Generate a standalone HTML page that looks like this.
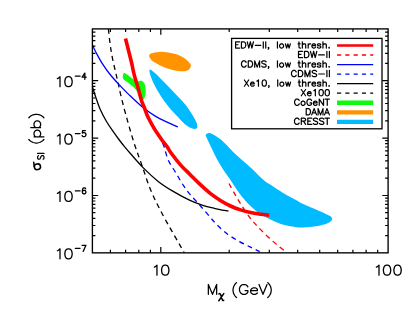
<!DOCTYPE html>
<html><head><meta charset="utf-8"><title>WIMP-nucleon cross-section limits</title><style>
html,body{margin:0;padding:0;background:#fff;}
svg{display:block;}
body{font-family:"Liberation Sans",sans-serif;}
</style></head><body>
<svg width="415" height="312" viewBox="0 0 415 312">
<rect width="415" height="312" fill="#fff"/>
<defs><clipPath id="c"><rect x="92.4" y="28.9" width="295.70000000000005" height="223.95"/></clipPath></defs>
<g clip-path="url(#c)" fill="none" stroke-linejoin="round">
<path d="M229.00 183.50C230.00 185.32 233.07 191.02 235.00 194.40C236.93 197.78 238.13 199.95 240.60 203.80C243.07 207.65 246.93 213.68 249.80 217.50C252.67 221.32 254.70 223.40 257.80 226.70C260.90 230.00 264.95 234.08 268.40 237.30C271.85 240.52 275.62 243.62 278.50 246.00C281.38 248.38 284.50 250.67 285.70 251.60" stroke="#ff0000" stroke-width="1.3" stroke-dasharray="5.0 4.1" stroke-dashoffset="0"/>
<path d="M124.20 73.00C123.53 73.12 123.15 74.22 123.00 75.20C122.85 76.18 122.42 77.65 123.30 78.90C124.18 80.15 126.63 81.33 128.30 82.70C129.97 84.07 131.83 85.65 133.30 87.10C134.77 88.55 135.63 89.53 137.10 91.40C138.57 93.27 140.95 97.03 142.10 98.30C143.25 99.57 143.42 99.83 144.00 99.00C144.58 98.17 145.40 95.50 145.60 93.30C145.80 91.10 145.58 87.68 145.20 85.80C144.82 83.92 144.03 82.83 143.30 82.00C142.57 81.17 141.83 80.90 140.80 80.80C139.77 80.70 138.57 81.82 137.10 81.40C135.63 80.98 133.68 79.45 132.00 78.30C130.32 77.15 128.30 75.38 127.00 74.50C125.70 73.62 124.87 72.88 124.20 73.00Z" fill="#0cfa0c"/>
<path d="M149.10 56.10C149.10 55.00 149.77 54.00 151.40 53.30C153.03 52.60 156.07 52.03 158.90 51.90C161.73 51.77 165.23 52.02 168.40 52.50C171.57 52.98 175.05 53.73 177.90 54.80C180.75 55.87 183.45 57.42 185.50 58.90C187.55 60.38 189.32 62.43 190.20 63.70C191.08 64.97 191.12 65.47 190.80 66.50C190.48 67.53 189.67 69.11 188.30 69.90C186.93 70.69 184.97 71.18 182.60 71.25C180.23 71.32 177.10 70.92 174.10 70.30C171.10 69.67 167.45 68.60 164.60 67.50C161.75 66.40 159.20 64.97 157.00 63.70C154.80 62.43 152.72 61.17 151.40 59.90C150.08 58.63 149.10 57.20 149.10 56.10Z" fill="#ff9400"/>
<path d="M149.80 69.50C149.00 69.82 149.67 72.68 150.40 75.20C151.13 77.72 152.47 81.13 154.20 84.60C155.93 88.07 158.43 92.37 160.80 96.00C163.17 99.63 165.87 103.25 168.40 106.40C170.93 109.55 173.07 111.80 176.00 114.90C178.93 118.00 183.38 122.77 186.00 125.00C188.62 127.23 190.12 127.67 191.70 128.30C193.28 128.93 194.57 129.03 195.50 128.80C196.43 128.57 197.15 128.00 197.30 126.90C197.45 125.80 197.33 124.40 196.40 122.20C195.47 120.00 193.52 116.60 191.70 113.70C189.88 110.80 187.80 107.67 185.50 104.80C183.20 101.93 180.43 99.22 177.90 96.50C175.37 93.78 172.83 91.12 170.30 88.50C167.77 85.88 165.22 83.33 162.70 80.80C160.18 78.27 157.35 75.18 155.20 73.30C153.05 71.42 150.60 69.18 149.80 69.50Z" fill="#00bbff"/>
<path d="M205.80 134.70C205.43 135.68 206.23 136.55 207.20 138.80C208.17 141.05 209.92 144.70 211.60 148.20C213.28 151.70 215.38 156.25 217.30 159.80C219.22 163.35 221.07 166.37 223.10 169.50C225.13 172.63 227.35 175.43 229.50 178.60C231.65 181.77 233.85 185.38 236.00 188.50C238.15 191.62 240.12 194.50 242.40 197.30C244.68 200.10 247.32 202.93 249.70 205.30C252.08 207.67 254.33 209.67 256.70 211.50C259.07 213.33 261.50 214.93 263.90 216.30C266.30 217.67 268.68 218.57 271.10 219.70C273.52 220.83 275.98 222.17 278.40 223.10C280.82 224.03 282.83 224.67 285.60 225.30C288.37 225.93 292.08 226.55 295.00 226.90C297.92 227.25 299.35 227.55 303.10 227.40C306.85 227.25 313.52 226.63 317.50 226.00C321.48 225.37 324.67 224.52 327.00 223.60C329.33 222.68 330.75 221.55 331.50 220.50C332.25 219.45 332.25 218.28 331.50 217.30C330.75 216.32 328.85 215.57 327.00 214.60C325.15 213.63 324.38 213.27 320.40 211.50C316.42 209.73 307.33 206.00 303.10 204.00C298.87 202.00 297.92 201.10 295.00 199.50C292.08 197.90 288.37 195.97 285.60 194.40C282.83 192.83 280.82 191.67 278.40 190.10C275.98 188.53 273.23 186.40 271.10 185.00C268.97 183.60 267.72 183.33 265.60 181.70C263.48 180.07 260.82 177.48 258.40 175.20C255.98 172.92 253.60 170.32 251.10 168.00C248.60 165.68 245.90 163.52 243.40 161.30C240.90 159.08 238.52 157.00 236.10 154.70C233.68 152.40 231.30 149.90 228.90 147.50C226.50 145.10 224.10 142.35 221.70 140.30C219.30 138.25 216.55 136.43 214.50 135.20C212.45 133.97 210.85 132.98 209.40 132.90C207.95 132.82 206.17 133.72 205.80 134.70Z" fill="#00bbff"/>
<path d="M162.50 143.00C162.82 143.75 163.45 144.67 164.40 147.50C165.35 150.33 166.32 155.82 168.20 160.00C170.08 164.18 173.20 168.42 175.70 172.60C178.20 176.78 180.82 181.47 183.20 185.10C185.58 188.73 187.18 191.00 190.00 194.40C192.82 197.80 196.73 201.70 200.10 205.50C203.47 209.30 207.33 213.93 210.20 217.20C213.07 220.47 214.35 222.23 217.30 225.10C220.25 227.97 224.20 231.65 227.90 234.40C231.60 237.15 235.65 239.43 239.50 241.60C243.35 243.77 247.63 245.73 251.00 247.40C254.37 249.07 258.25 250.90 259.70 251.60" stroke="#0000ff" stroke-width="1.3" stroke-dasharray="5.0 4.1"/>
<path d="M108.40 28.90C108.68 31.40 109.45 39.15 110.10 43.90C110.75 48.65 111.43 52.90 112.30 57.40C113.17 61.90 114.37 66.78 115.30 70.90C116.23 75.02 117.02 78.18 117.90 82.10C118.78 86.02 119.32 89.10 120.60 94.40C121.88 99.70 123.38 105.88 125.60 113.90C127.82 121.92 131.18 133.97 133.90 142.50C136.62 151.03 139.10 157.17 141.90 165.10C144.70 173.03 147.23 181.83 150.70 190.10C154.17 198.37 157.10 204.24 162.70 214.70C168.30 225.16 180.70 246.49 184.30 252.85" stroke="#000" stroke-width="1.3" stroke-dasharray="5.0 4.1"/>
<path d="M92.30 86.50C92.92 88.42 94.63 94.07 96.00 98.00C97.37 101.93 98.75 106.18 100.50 110.10C102.25 114.02 104.40 117.95 106.50 121.50C108.60 125.05 110.97 128.32 113.10 131.40C115.23 134.48 117.43 137.50 119.30 140.00C121.17 142.50 122.42 144.10 124.30 146.40C126.18 148.70 127.47 150.27 130.60 153.80C133.73 157.33 138.50 163.00 143.10 167.60C147.70 172.20 153.18 177.43 158.20 181.40C163.22 185.37 167.90 188.23 173.20 191.40C178.50 194.57 185.18 198.12 190.00 200.40C194.82 202.68 198.05 203.78 202.10 205.10C206.15 206.42 209.90 207.28 214.30 208.30C218.70 209.32 226.13 210.72 228.50 211.20" stroke="#000" stroke-width="1.3"/>
<path d="M92.30 44.80C93.03 46.28 95.00 50.52 96.70 53.70C98.40 56.88 100.33 60.52 102.50 63.90C104.67 67.28 106.93 70.55 109.70 74.00C112.47 77.45 115.82 81.08 119.10 84.60C122.38 88.12 125.40 91.27 129.40 95.10C133.40 98.93 138.72 104.05 143.10 107.60C147.48 111.15 151.52 113.90 155.70 116.40C159.88 118.90 164.52 120.85 168.20 122.60C171.88 124.35 176.20 126.18 177.80 126.90" stroke="#0000ff" stroke-width="1.3"/>
<path d="M125.50 38.50C126.48 42.42 130.13 56.75 131.40 62.00C132.67 67.25 132.53 67.50 133.10 70.00C133.67 72.50 133.97 74.00 134.80 77.00C135.63 80.00 137.00 84.13 138.10 88.00C139.20 91.87 140.33 96.87 141.40 100.20C142.47 103.53 143.37 105.10 144.50 108.00C145.63 110.90 146.55 114.12 148.20 117.60C149.85 121.08 152.52 125.77 154.40 128.90C156.28 132.03 158.25 134.55 159.50 136.40C160.75 138.25 160.65 138.32 161.90 140.00C163.15 141.68 165.53 144.42 167.00 146.50C168.47 148.58 168.42 149.40 170.70 152.50C172.98 155.60 177.48 161.45 180.70 165.10C183.92 168.75 186.77 171.18 190.00 174.40C193.23 177.62 196.73 181.25 200.10 184.40C203.47 187.55 206.82 190.63 210.20 193.30C213.58 195.97 217.02 198.28 220.40 200.40C223.78 202.52 227.13 204.42 230.50 206.00C233.87 207.58 237.23 208.80 240.60 209.90C243.97 211.00 247.32 211.88 250.70 212.60C254.08 213.32 257.82 213.77 260.90 214.20C263.98 214.63 267.82 215.03 269.20 215.20" stroke="#ff0000" stroke-width="3.6"/>
</g>
<rect x="231.6" y="38.4" width="150.4" height="90.4" fill="#fff" stroke="#000" stroke-width="1.3"/>
<line x1="337" y1="45.5" x2="373.2" y2="45.5" stroke="#ff0000" stroke-width="2.6"/>
<line x1="337" y1="55.0" x2="373.2" y2="55.0" stroke="#ff0000" stroke-width="1.3" stroke-dasharray="4.15 4.15"/>
<line x1="337" y1="64.6" x2="373.2" y2="64.6" stroke="#0000ff" stroke-width="1.3"/>
<line x1="337" y1="74.2" x2="373.2" y2="74.2" stroke="#0000ff" stroke-width="1.3" stroke-dasharray="4.15 4.15"/>
<line x1="337" y1="83.7" x2="373.2" y2="83.7" stroke="#000" stroke-width="1.2"/>
<line x1="337" y1="93.2" x2="373.2" y2="93.2" stroke="#000" stroke-width="1.2" stroke-dasharray="4.15 4.15"/>
<line x1="337" y1="102.8" x2="373.2" y2="102.8" stroke="#0cfa0c" stroke-width="4.4"/>
<line x1="337" y1="112.4" x2="373.2" y2="112.4" stroke="#ff9400" stroke-width="4.4"/>
<line x1="337" y1="121.9" x2="373.2" y2="121.9" stroke="#00bbff" stroke-width="4.4"/>
<path d="M235.60 41.77L235.60 48.03M235.60 41.77L239.60 41.77M235.60 44.75L238.06 44.75M235.60 48.03L239.60 48.03M241.44 41.77L241.44 48.03M241.44 41.77L243.60 41.77L244.52 42.07L245.13 42.66L245.44 43.26L245.75 44.16L245.75 45.64L245.44 46.54L245.13 47.13L244.52 47.73L243.60 48.03L241.44 48.03M247.29 41.77L248.82 48.03M250.36 41.77L248.82 48.03M250.36 41.77L251.90 48.03M253.44 41.77L251.90 48.03M255.28 45.35L260.82 45.35M263.28 41.77L263.28 48.03M265.74 41.77L265.74 48.03M268.81 47.73L268.51 48.03L268.20 47.73L268.51 47.43L268.81 47.73L268.81 48.33L268.51 48.92L268.20 49.22M277.43 41.77L277.43 48.03M281.12 43.86L280.50 44.16L279.89 44.75L279.58 45.64L279.58 46.24L279.89 47.13L280.50 47.73L281.12 48.03L282.04 48.03L282.65 47.73L283.27 47.13L283.58 46.24L283.58 45.64L283.27 44.75L282.65 44.16L282.04 43.86L281.12 43.86M285.42 43.86L286.65 48.03M287.88 43.86L286.65 48.03M287.88 43.86L289.11 48.03M290.34 43.86L289.11 48.03M298.95 41.77L298.95 46.84L299.26 47.73L299.88 48.03L300.49 48.03M298.03 43.86L300.18 43.86M302.34 41.77L302.34 48.03M302.34 45.05L303.26 44.16L303.87 43.86L304.80 43.86L305.41 44.16L305.72 45.05L305.72 48.03M308.18 43.86L308.18 48.03M308.18 45.64L308.49 44.75L309.10 44.16L309.72 43.86L310.64 43.86M311.87 45.64L315.56 45.64L315.56 45.05L315.25 44.45L314.95 44.16L314.33 43.86L313.41 43.86L312.79 44.16L312.18 44.75L311.87 45.64L311.87 46.24L312.18 47.13L312.79 47.73L313.41 48.03L314.33 48.03L314.95 47.73L315.56 47.13M320.79 44.75L320.48 44.16L319.56 43.86L318.64 43.86L317.71 44.16L317.41 44.75L317.71 45.35L318.33 45.64L319.87 45.94L320.48 46.24L320.79 46.84L320.79 47.13L320.48 47.73L319.56 48.03L318.64 48.03L317.71 47.73L317.41 47.13M322.94 41.77L322.94 48.03M322.94 45.05L323.86 44.16L324.48 43.86L325.40 43.86L326.02 44.16L326.32 45.05L326.32 48.03M329.09 47.43L328.78 47.73L329.09 48.03L329.40 47.73L329.09 47.43M298.50 51.32L298.50 57.58M298.50 51.32L302.60 51.32M298.50 54.30L301.02 54.30M298.50 57.58L302.60 57.58M304.49 51.32L304.49 57.58M304.49 51.32L306.70 51.32L307.64 51.62L308.27 52.21L308.59 52.81L308.91 53.70L308.91 55.19L308.59 56.09L308.27 56.68L307.64 57.28L306.70 57.58L304.49 57.58M310.48 51.32L312.06 57.58M313.63 51.32L312.06 57.58M313.63 51.32L315.21 57.58M316.79 51.32L315.21 57.58M318.68 54.90L324.36 54.90M326.88 51.32L326.88 57.58M329.40 51.32L329.40 57.58M246.11 62.36L245.80 61.76L245.19 61.17L244.57 60.87L243.34 60.87L242.73 61.17L242.11 61.76L241.81 62.36L241.50 63.25L241.50 64.74L241.81 65.64L242.11 66.23L242.73 66.83L243.34 67.13L244.57 67.13L245.19 66.83L245.80 66.23L246.11 65.64M248.26 60.87L248.26 67.13M248.26 60.87L250.41 60.87L251.33 61.17L251.95 61.76L252.26 62.36L252.56 63.25L252.56 64.74L252.26 65.64L251.95 66.23L251.33 66.83L250.41 67.13L248.26 67.13M254.72 60.87L254.72 67.13M254.72 60.87L257.17 67.13M259.63 60.87L257.17 67.13M259.63 60.87L259.63 67.13M266.09 61.76L265.47 61.17L264.55 60.87L263.32 60.87L262.40 61.17L261.78 61.76L261.78 62.36L262.09 62.96L262.40 63.25L263.01 63.55L264.86 64.15L265.47 64.45L265.78 64.74L266.09 65.34L266.09 66.23L265.47 66.83L264.55 67.13L263.32 67.13L262.40 66.83L261.78 66.23M268.85 66.83L268.55 67.13L268.24 66.83L268.55 66.53L268.85 66.83L268.85 67.43L268.55 68.02L268.24 68.32M277.46 60.87L277.46 67.13M281.15 62.96L280.53 63.25L279.92 63.85L279.61 64.74L279.61 65.34L279.92 66.23L280.53 66.83L281.15 67.13L282.07 67.13L282.68 66.83L283.30 66.23L283.61 65.34L283.61 64.74L283.30 63.85L282.68 63.25L282.07 62.96L281.15 62.96M285.45 62.96L286.68 67.13M287.91 62.96L286.68 67.13M287.91 62.96L289.14 67.13M290.37 62.96L289.14 67.13M298.97 60.87L298.97 65.94L299.28 66.83L299.90 67.13L300.51 67.13M298.05 62.96L300.20 62.96M302.35 60.87L302.35 67.13M302.35 64.15L303.28 63.25L303.89 62.96L304.81 62.96L305.43 63.25L305.73 64.15L305.73 67.13M308.19 62.96L308.19 67.13M308.19 64.74L308.50 63.85L309.12 63.25L309.73 62.96L310.65 62.96M311.88 64.74L315.57 64.74L315.57 64.15L315.26 63.55L314.95 63.25L314.34 62.96L313.42 62.96L312.80 63.25L312.19 63.85L311.88 64.74L311.88 65.34L312.19 66.23L312.80 66.83L313.42 67.13L314.34 67.13L314.95 66.83L315.57 66.23M320.79 63.85L320.49 63.25L319.57 62.96L318.64 62.96L317.72 63.25L317.41 63.85L317.72 64.45L318.34 64.74L319.87 65.04L320.49 65.34L320.79 65.94L320.79 66.23L320.49 66.83L319.57 67.13L318.64 67.13L317.72 66.83L317.41 66.23M322.95 60.87L322.95 67.13M322.95 64.15L323.87 63.25L324.48 62.96L325.40 62.96L326.02 63.25L326.33 64.15L326.33 67.13M329.09 66.53L328.79 66.83L329.09 67.13L329.40 66.83L329.09 66.53M296.20 71.91L295.89 71.32L295.26 70.72L294.63 70.42L293.38 70.42L292.75 70.72L292.13 71.32L291.81 71.91L291.50 72.81L291.50 74.30L291.81 75.19L292.13 75.79L292.75 76.38L293.38 76.68L294.63 76.68L295.26 76.38L295.89 75.79L296.20 75.19M298.39 70.42L298.39 76.68M298.39 70.42L300.58 70.42L301.52 70.72L302.15 71.32L302.46 71.91L302.78 72.81L302.78 74.30L302.46 75.19L302.15 75.79L301.52 76.38L300.58 76.68L298.39 76.68M304.97 70.42L304.97 76.68M304.97 70.42L307.47 76.68M309.98 70.42L307.47 76.68M309.98 70.42L309.98 76.68M316.56 71.32L315.93 70.72L314.99 70.42L313.74 70.42L312.80 70.72L312.17 71.32L312.17 71.91L312.49 72.51L312.80 72.81L313.43 73.10L315.30 73.70L315.93 74.00L316.24 74.30L316.56 74.89L316.56 75.79L315.93 76.38L314.99 76.68L313.74 76.68L312.80 76.38L312.17 75.79M318.75 74.00L324.39 74.00M326.89 70.42L326.89 76.68M329.40 70.42L329.40 76.68M244.40 79.97L248.68 86.23M248.68 79.97L244.40 86.23M250.52 83.85L254.18 83.85L254.18 83.25L253.88 82.65L253.57 82.36L252.96 82.06L252.04 82.06L251.43 82.36L250.82 82.95L250.52 83.85L250.52 84.44L250.82 85.34L251.43 85.93L252.04 86.23L252.96 86.23L253.57 85.93L254.18 85.34M256.94 81.16L257.55 80.87L258.46 79.97L258.46 86.23M263.97 79.97L263.05 80.27L262.44 81.16L262.13 82.65L262.13 83.55L262.44 85.04L263.05 85.93L263.97 86.23L264.58 86.23L265.50 85.93L266.11 85.04L266.41 83.55L266.41 82.65L266.11 81.16L265.50 80.27L264.58 79.97L263.97 79.97M269.17 85.93L268.86 86.23L268.55 85.93L268.86 85.63L269.17 85.93L269.17 86.53L268.86 87.12L268.55 87.42M277.73 79.97L277.73 86.23M281.40 82.06L280.78 82.36L280.17 82.95L279.87 83.85L279.87 84.44L280.17 85.34L280.78 85.93L281.40 86.23L282.31 86.23L282.93 85.93L283.54 85.34L283.84 84.44L283.84 83.85L283.54 82.95L282.93 82.36L282.31 82.06L281.40 82.06M285.68 82.06L286.90 86.23M288.12 82.06L286.90 86.23M288.12 82.06L289.35 86.23M290.57 82.06L289.35 86.23M299.13 79.97L299.13 85.04L299.44 85.93L300.05 86.23L300.66 86.23M298.21 82.06L300.35 82.06M302.49 79.97L302.49 86.23M302.49 83.25L303.41 82.36L304.02 82.06L304.94 82.06L305.55 82.36L305.86 83.25L305.86 86.23M308.30 82.06L308.30 86.23M308.30 83.85L308.61 82.95L309.22 82.36L309.83 82.06L310.75 82.06M311.97 83.85L315.64 83.85L315.64 83.25L315.34 82.65L315.03 82.36L314.42 82.06L313.50 82.06L312.89 82.36L312.28 82.95L311.97 83.85L311.97 84.44L312.28 85.34L312.89 85.93L313.50 86.23L314.42 86.23L315.03 85.93L315.64 85.34M320.84 82.95L320.53 82.36L319.62 82.06L318.70 82.06L317.78 82.36L317.48 82.95L317.78 83.55L318.39 83.85L319.92 84.14L320.53 84.44L320.84 85.04L320.84 85.34L320.53 85.93L319.62 86.23L318.70 86.23L317.78 85.93L317.48 85.34M322.98 79.97L322.98 86.23M322.98 83.25L323.90 82.36L324.51 82.06L325.43 82.06L326.04 82.36L326.34 83.25L326.34 86.23M329.09 85.63L328.79 85.93L329.09 86.23L329.40 85.93L329.09 85.63M301.30 89.52L305.58 95.78M305.58 89.52L301.30 95.78M307.41 93.40L311.07 93.40L311.07 92.80L310.77 92.20L310.46 91.91L309.85 91.61L308.94 91.61L308.32 91.91L307.71 92.50L307.41 93.40L307.41 93.99L307.71 94.89L308.32 95.48L308.94 95.78L309.85 95.78L310.46 95.48L311.07 94.89M313.82 90.71L314.43 90.42L315.35 89.52L315.35 95.78M320.85 89.52L319.93 89.82L319.32 90.71L319.02 92.20L319.02 93.10L319.32 94.59L319.93 95.48L320.85 95.78L321.46 95.78L322.38 95.48L322.99 94.59L323.29 93.10L323.29 92.20L322.99 90.71L322.38 89.82L321.46 89.52L320.85 89.52M326.96 89.52L326.04 89.82L325.43 90.71L325.12 92.20L325.12 93.10L325.43 94.59L326.04 95.48L326.96 95.78L327.57 95.78L328.48 95.48L329.09 94.59L329.40 93.10L329.40 92.20L329.09 90.71L328.48 89.82L327.57 89.52L326.96 89.52M299.22 100.56L298.91 99.97L298.30 99.37L297.68 99.07L296.45 99.07L295.83 99.37L295.22 99.97L294.91 100.56L294.60 101.46L294.60 102.95L294.91 103.84L295.22 104.44L295.83 105.03L296.45 105.33L297.68 105.33L298.30 105.03L298.91 104.44L299.22 103.84M302.61 101.16L301.99 101.46L301.38 102.05L301.07 102.95L301.07 103.54L301.38 104.44L301.99 105.03L302.61 105.33L303.53 105.33L304.15 105.03L304.76 104.44L305.07 103.54L305.07 102.95L304.76 102.05L304.15 101.46L303.53 101.16L302.61 101.16M311.54 100.56L311.23 99.97L310.61 99.37L310.00 99.07L308.77 99.07L308.15 99.37L307.53 99.97L307.23 100.56L306.92 101.46L306.92 102.95L307.23 103.84L307.53 104.44L308.15 105.03L308.77 105.33L310.00 105.33L310.61 105.03L311.23 104.44L311.54 103.84L311.54 102.95M310.00 102.95L311.54 102.95M313.39 102.95L317.08 102.95L317.08 102.35L316.77 101.75L316.47 101.46L315.85 101.16L314.93 101.16L314.31 101.46L313.69 102.05L313.39 102.95L313.39 103.54L313.69 104.44L314.31 105.03L314.93 105.33L315.85 105.33L316.47 105.03L317.08 104.44M319.24 99.07L319.24 105.33M319.24 99.07L323.55 105.33M323.55 99.07L323.55 105.33M327.24 99.07L327.24 105.33M325.09 99.07L329.40 99.07M306.20 108.62L306.20 114.88M306.20 108.62L308.34 108.62L309.25 108.92L309.86 109.52L310.17 110.11L310.47 111.01L310.47 112.50L310.17 113.39L309.86 113.99L309.25 114.58L308.34 114.88L306.20 114.88M314.14 108.62L311.69 114.88M314.14 108.62L316.58 114.88M312.61 112.79L315.66 112.79M318.11 108.62L318.11 114.88M318.11 108.62L320.55 114.88M322.99 108.62L320.55 114.88M322.99 108.62L322.99 114.88M326.96 108.62L324.52 114.88M326.96 108.62L329.40 114.88M325.43 112.79L328.48 112.79M299.13 119.66L298.82 119.07L298.21 118.47L297.59 118.17L296.35 118.17L295.74 118.47L295.12 119.07L294.81 119.66L294.50 120.56L294.50 122.05L294.81 122.94L295.12 123.54L295.74 124.13L296.35 124.43L297.59 124.43L298.21 124.13L298.82 123.54L299.13 122.94M301.29 118.17L301.29 124.43M301.29 118.17L304.07 118.17L305.00 118.47L305.31 118.77L305.62 119.36L305.62 119.96L305.31 120.56L305.00 120.85L304.07 121.15L301.29 121.15M303.46 121.15L305.62 124.43M307.78 118.17L307.78 124.43M307.78 118.17L311.80 118.17M307.78 121.15L310.25 121.15M307.78 124.43L311.80 124.43M317.66 119.07L317.05 118.47L316.12 118.17L314.88 118.17L313.96 118.47L313.34 119.07L313.34 119.66L313.65 120.26L313.96 120.56L314.58 120.85L316.43 121.45L317.05 121.75L317.35 122.05L317.66 122.64L317.66 123.54L317.05 124.13L316.12 124.43L314.88 124.43L313.96 124.13L313.34 123.54M323.84 119.07L323.22 118.47L322.30 118.17L321.06 118.17L320.13 118.47L319.52 119.07L319.52 119.66L319.83 120.26L320.13 120.56L320.75 120.85L322.61 121.45L323.22 121.75L323.53 122.05L323.84 122.64L323.84 123.54L323.22 124.13L322.30 124.43L321.06 124.43L320.13 124.13L319.52 123.54M327.24 118.17L327.24 124.43M325.08 118.17L329.40 118.17" fill="none" stroke="#000" stroke-width="1.22" stroke-linecap="round" stroke-linejoin="round"/>

<path d="M110.4 252.8L110.4 249.8 M110.4 28.9L110.4 31.9 M125.6 252.8L125.6 249.8 M125.6 28.9L125.6 31.9 M138.8 252.8L138.8 249.8 M138.8 28.9L138.8 31.9 M150.4 252.8L150.4 249.8 M150.4 28.9L150.4 31.9 M160.8 252.8L160.8 247.0 M160.8 28.9L160.8 34.7 M229.2 252.8L229.2 249.8 M229.2 28.9L229.2 31.9 M269.3 252.8L269.3 249.8 M269.3 28.9L269.3 31.9 M297.7 252.8L297.7 249.8 M297.7 28.9L297.7 31.9 M319.7 252.8L319.7 249.8 M319.7 28.9L319.7 31.9 M337.7 252.8L337.7 249.8 M337.7 28.9L337.7 31.9 M352.9 252.8L352.9 249.8 M352.9 28.9L352.9 31.9 M366.1 252.8L366.1 249.8 M366.1 28.9L366.1 31.9 M377.7 252.8L377.7 249.8 M377.7 28.9L377.7 31.9 M92.4 235.6L95.4 235.6 M388.1 235.6L385.1 235.6 M92.4 225.5L95.4 225.5 M388.1 225.5L385.1 225.5 M92.4 218.3L95.4 218.3 M388.1 218.3L385.1 218.3 M92.4 212.7L95.4 212.7 M388.1 212.7L385.1 212.7 M92.4 208.2L95.4 208.2 M388.1 208.2L385.1 208.2 M92.4 204.4L95.4 204.4 M388.1 204.4L385.1 204.4 M92.4 201.0L95.4 201.0 M388.1 201.0L385.1 201.0 M92.4 198.1L95.4 198.1 M388.1 198.1L385.1 198.1 M92.4 195.5L98.2 195.5 M388.1 195.5L382.3 195.5 M92.4 178.2L95.4 178.2 M388.1 178.2L385.1 178.2 M92.4 168.1L95.4 168.1 M388.1 168.1L385.1 168.1 M92.4 160.9L95.4 160.9 M388.1 160.9L385.1 160.9 M92.4 155.4L95.4 155.4 M388.1 155.4L385.1 155.4 M92.4 150.8L95.4 150.8 M388.1 150.8L385.1 150.8 M92.4 147.0L95.4 147.0 M388.1 147.0L385.1 147.0 M92.4 143.7L95.4 143.7 M388.1 143.7L385.1 143.7 M92.4 140.7L95.4 140.7 M388.1 140.7L385.1 140.7 M92.4 138.1L98.2 138.1 M388.1 138.1L382.3 138.1 M92.4 120.8L95.4 120.8 M388.1 120.8L385.1 120.8 M92.4 110.7L95.4 110.7 M388.1 110.7L385.1 110.7 M92.4 103.5L95.4 103.5 M388.1 103.5L385.1 103.5 M92.4 98.0L95.4 98.0 M388.1 98.0L385.1 98.0 M92.4 93.4L95.4 93.4 M388.1 93.4L385.1 93.4 M92.4 89.6L95.4 89.6 M388.1 89.6L385.1 89.6 M92.4 86.3L95.4 86.3 M388.1 86.3L385.1 86.3 M92.4 83.3L95.4 83.3 M388.1 83.3L385.1 83.3 M92.4 80.7L98.2 80.7 M388.1 80.7L382.3 80.7 M92.4 63.4L95.4 63.4 M388.1 63.4L385.1 63.4 M92.4 53.3L95.4 53.3 M388.1 53.3L385.1 53.3 M92.4 46.2L95.4 46.2 M388.1 46.2L385.1 46.2 M92.4 40.6L95.4 40.6 M388.1 40.6L385.1 40.6 M92.4 36.1L95.4 36.1 M388.1 36.1L385.1 36.1 M92.4 32.2L95.4 32.2 M388.1 32.2L385.1 32.2" stroke="#000" stroke-width="1.2" fill="none"/>
<rect x="92.4" y="28.9" width="295.70000000000005" height="223.95" fill="none" stroke="#000" stroke-width="1.35"/>
<path d="M57.39 78.62L58.44 78.14L60.00 76.71L60.00 86.71M67.98 76.71L66.42 77.19L65.37 78.62L64.85 81.00L64.85 82.42L65.37 84.80L66.42 86.23L67.98 86.71L69.02 86.71L70.58 86.23L71.63 84.80L72.15 82.42L72.15 81.00L71.63 78.62L70.58 77.19L69.02 76.71L67.98 76.71M75.36 76.21L80.04 76.21M84.83 73.16L82.08 77.22L86.20 77.22M84.83 73.16L84.83 79.25M57.39 136.00L58.44 135.52L60.00 134.09L60.00 144.09M67.98 134.09L66.42 134.57L65.37 136.00L64.85 138.38L64.85 139.80L65.37 142.18L66.42 143.61L67.98 144.09L69.02 144.09L70.58 143.61L71.63 142.18L72.15 139.80L72.15 138.38L71.63 136.00L70.58 134.57L69.02 134.09L67.98 134.09M75.36 133.59L80.04 133.59M85.38 130.55L82.62 130.55L82.35 133.16L82.62 132.87L83.45 132.58L84.28 132.58L85.10 132.87L85.65 133.44L85.92 134.31L85.92 134.90L85.65 135.77L85.10 136.34L84.28 136.63L83.45 136.63L82.62 136.34L82.35 136.06L82.08 135.47M57.39 193.38L58.44 192.90L60.00 191.47L60.00 201.47M67.98 191.47L66.42 191.95L65.37 193.38L64.85 195.76L64.85 197.18L65.37 199.56L66.42 200.99L67.98 201.47L69.02 201.47L70.58 200.99L71.63 199.56L72.15 197.18L72.15 195.76L71.63 193.38L70.58 191.95L69.02 191.47L67.98 191.47M75.36 190.97L80.04 190.97M85.65 188.79L85.38 188.22L84.55 187.93L84.00 187.93L83.17 188.22L82.62 189.09L82.35 190.53L82.35 191.98L82.62 193.15L83.17 193.72L84.00 194.01L84.28 194.01L85.10 193.72L85.65 193.15L85.92 192.28L85.92 191.98L85.65 191.12L85.10 190.53L84.28 190.25L84.00 190.25L83.17 190.53L82.62 191.12L82.35 191.98M57.39 250.76L58.44 250.28L60.00 248.85L60.00 258.85M67.98 248.85L66.42 249.33L65.37 250.76L64.85 253.14L64.85 254.56L65.37 256.94L66.42 258.37L67.98 258.85L69.02 258.85L70.58 258.37L71.63 256.94L72.15 254.56L72.15 253.14L71.63 250.76L70.58 249.33L69.02 248.85L67.98 248.85M75.36 248.35L80.04 248.35M85.92 245.31L83.17 251.40M82.08 245.31L85.92 245.31M154.35 267.11L155.39 266.63L156.95 265.20L156.95 275.20M164.73 265.20L163.17 265.68L162.12 267.11L161.60 269.49L161.60 270.91L162.12 273.29L163.17 274.72L164.73 275.20L165.77 275.20L167.33 274.72L168.38 273.29L168.90 270.91L168.90 269.49L168.38 267.11L167.33 265.68L165.77 265.20L164.73 265.20M376.39 267.11L377.44 266.63L379.00 265.20L379.00 275.20M386.53 265.20L384.97 265.68L383.92 267.11L383.40 269.49L383.40 270.91L383.92 273.29L384.97 274.72L386.53 275.20L387.57 275.20L389.13 274.72L390.18 273.29L390.70 270.91L390.70 269.49L390.18 267.11L389.13 265.68L387.57 265.20L386.53 265.20M397.03 265.20L395.47 265.68L394.42 267.11L393.90 269.49L393.90 270.91L394.42 273.29L395.47 274.72L397.03 275.20L398.07 275.20L399.63 274.72L400.68 273.29L401.20 270.91L401.20 269.49L400.68 267.11L399.63 265.68L398.07 265.20L397.03 265.20" fill="none" stroke="#000" stroke-width="1.3" stroke-linecap="round" stroke-linejoin="round"/>
<path d="M208.34 284.50L208.34 294.30M208.34 284.50L212.50 294.30M216.66 284.50L212.50 294.30M216.66 284.50L216.66 294.30M236.55 282.63L235.55 283.56L234.55 284.96L233.55 286.83L233.05 289.17L233.05 291.03L233.55 293.37L234.55 295.24L235.55 296.64L236.55 297.57M247.91 286.83L247.35 285.90L246.23 284.96L245.11 284.50L242.87 284.50L241.75 284.96L240.63 285.90L240.07 286.83L239.51 288.23L239.51 290.57L240.07 291.97L240.63 292.90L241.75 293.84L242.87 294.30L245.11 294.30L246.23 293.84L247.35 292.90L247.91 291.97L247.91 290.57M245.11 290.57L247.91 290.57M250.58 290.57L257.42 290.57L257.42 289.63L256.85 288.70L256.28 288.23L255.14 287.77L253.43 287.77L252.29 288.23L251.15 289.17L250.58 290.57L250.58 291.50L251.15 292.90L252.29 293.84L253.43 294.30L255.14 294.30L256.28 293.84L257.42 292.90M259.00 284.50L263.00 294.30M267.00 284.50L263.00 294.30M267.70 282.63L268.70 283.56L269.70 284.96L270.70 286.83L271.20 289.17L271.20 291.03L270.70 293.37L269.70 295.24L268.70 296.64L267.70 297.57M28.82 117.80L29.77 116.80L31.18 115.80L33.06 114.80L35.42 114.30L37.30 114.30L39.66 114.80L41.54 115.80L42.95 116.80L43.90 117.80M30.71 127.51L40.60 127.51M35.42 127.51L34.48 126.39L34.01 125.27L34.01 123.59L34.48 122.47L35.42 121.35L36.83 120.79L37.77 120.79L39.19 121.35L40.13 122.47L40.60 123.59L40.60 125.27L40.13 126.39L39.19 127.51M34.01 136.86L43.90 136.86M35.42 136.86L34.48 135.74L34.01 134.62L34.01 132.94L34.48 131.82L35.42 130.70L36.83 130.14L37.77 130.14L39.19 130.70L40.13 131.82L40.60 132.94L40.60 134.62L40.13 135.74L39.19 136.86M28.82 139.50L29.77 140.50L31.18 141.50L33.06 142.50L35.42 143.00L37.30 143.00L39.66 142.50L41.54 141.50L42.95 140.50L43.90 139.50" fill="none" stroke="#000" stroke-width="1.25" stroke-linecap="round" stroke-linejoin="round"/>
<path d="M38.51 155.58L37.90 156.10L37.59 156.88L37.59 157.92L37.90 158.70L38.51 159.22L39.12 159.22L39.73 158.96L40.03 158.70L40.34 158.18L40.95 156.62L41.26 156.10L41.56 155.84L42.17 155.58L43.09 155.58L43.70 156.10L44.00 156.88L44.00 157.92L43.70 158.70L43.09 159.22M37.59 153.40L44.00 153.40" fill="none" stroke="#000" stroke-width="1.2" stroke-linecap="round" stroke-linejoin="round"/>
<path d="M218.9 294.0C219.5 293.4 220.2 293.5 220.5 294.3L222.4 299.9C222.7 300.7 223.2 300.8 223.7 300.3M223.8 293.6L218.8 300.8" fill="none" stroke="#000" stroke-width="1.5" stroke-linecap="round" stroke-linejoin="round"/>
<g fill="none" stroke="#000" stroke-width="1.55" stroke-linecap="round" stroke-linejoin="round"><ellipse cx="37.4" cy="166.8" rx="3.1" ry="2.85" transform="rotate(-12 37.4 166.7)"/><path d="M34.3 166.4L33.7 162.3"/></g>

</svg>
</body></html>
